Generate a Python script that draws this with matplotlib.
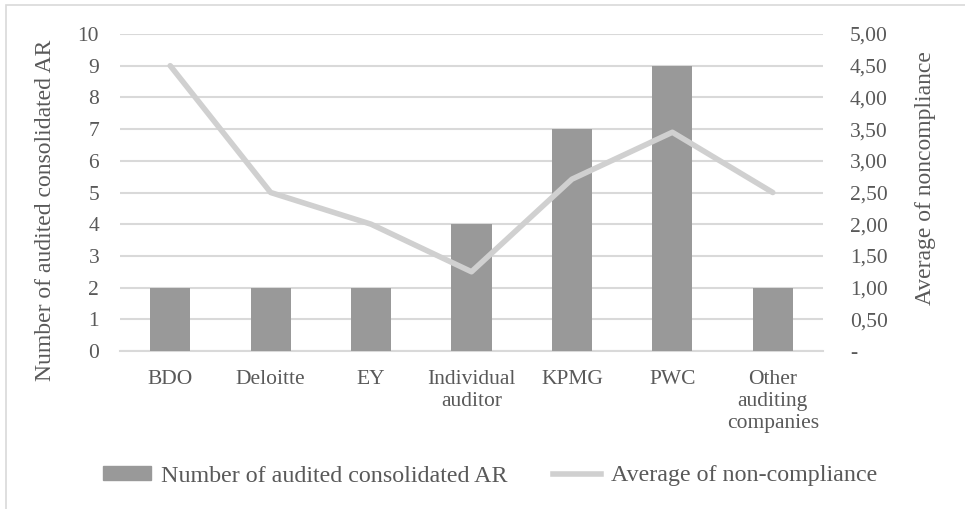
import matplotlib.pyplot as plt
import matplotlib.patches as mpatches
from matplotlib.lines import Line2D
import numpy as np

auditors = ["BDO", "Deloitte", "EY", "Individual\nauditor", "KPMG", "PWC",
            "Other\nauditing\ncompanies"]
audited_ar = [2, 2, 2, 4, 7, 9, 2]
avg_noncompliance = [4.5, 2.5, 2.0, 1.25, 2.71, 3.45, 2.5]

left_ticks = list(range(0, 11))
right_ticks = [0, 0.5, 1, 1.5, 2, 2.5, 3, 3.5, 4, 4.5, 5]
right_labels = ["-"] + [f"{v:.2f}".replace(".", ",") for v in right_ticks[1:]]

bar_col = "#999999"
line_col = "#d0d0d0"
grid_col = "#d9d9d9"
txt_col = "#595959"

plt.rcParams['font.family'] = ['Liberation Serif', 'DejaVu Serif']

fig = plt.figure(figsize=(9.65, 5.09), dpi=100)
W, H = 965, 509
ax = fig.add_axes([120 / W, 1 - 351 / H, 703 / W, 317 / H])
ax2 = ax.twinx()

# outer chart border
fig.patches.append(mpatches.Rectangle((6 / W, -0.1), 1.2, 1 - 5.5 / H + 0.1,
                                      transform=fig.transFigure, fill=False,
                                      edgecolor="#d9d9d9", lw=1.2))

x = np.arange(len(auditors))
ax.bar(x, audited_ar, width=0.4, color=bar_col, zorder=3)
ax2.plot(x, avg_noncompliance, color=line_col, lw=4, solid_capstyle="round",
         zorder=4)

ax.set_xlim(-0.5, len(auditors) - 0.5)
ax.set_ylim(0, 10)
ax2.set_ylim(0, 5)
ax.set_yticks(left_ticks)
ax2.set_yticks(right_ticks)
ax2.set_yticklabels(right_labels)
ax.set_xticks(x)
ax.set_xticklabels(auditors, linespacing=1.2)

ax.yaxis.grid(True, color=grid_col, lw=1.5, zorder=0)
ax.set_axisbelow(True)
for a in (ax, ax2):
    for s in a.spines.values():
        s.set_visible(False)
    a.tick_params(length=0, labelsize=15.5, colors=txt_col)
ax.spines["bottom"].set_visible(True)
ax.spines["bottom"].set_color(grid_col)
ax.spines["bottom"].set_linewidth(1.5)
ax.tick_params(axis="y", pad=15)
ax.tick_params(axis="x", pad=14)
ax2.tick_params(axis="y", pad=19.5)

fig.text(46 / W, 1 - 210 / H, "Number of audited consolidated AR", rotation=90,
         ha="center", va="center", fontsize=17, color=txt_col)
fig.text(926 / W, 1 - 178 / H, "Average of noncompliance", rotation=90,
         ha="center", va="center", fontsize=17, color=txt_col)
ax.set_zorder(ax2.get_zorder() - 1)
ax.patch.set_visible(False)

handles = [mpatches.Patch(color=bar_col),
           Line2D([0], [0], color=line_col, lw=4)]
fig.legend(handles, ["Number of audited consolidated AR",
                     "Average of non-compliance"],
           loc="center", bbox_to_anchor=(490 / W, 1 - 476 / H), ncol=2,
           frameon=False, fontsize=17.3, labelcolor=txt_col, handlelength=2.0,
           handletextpad=0.4, columnspacing=1.9, handleheight=0.5)

fig.savefig("out.png", dpi=100)
